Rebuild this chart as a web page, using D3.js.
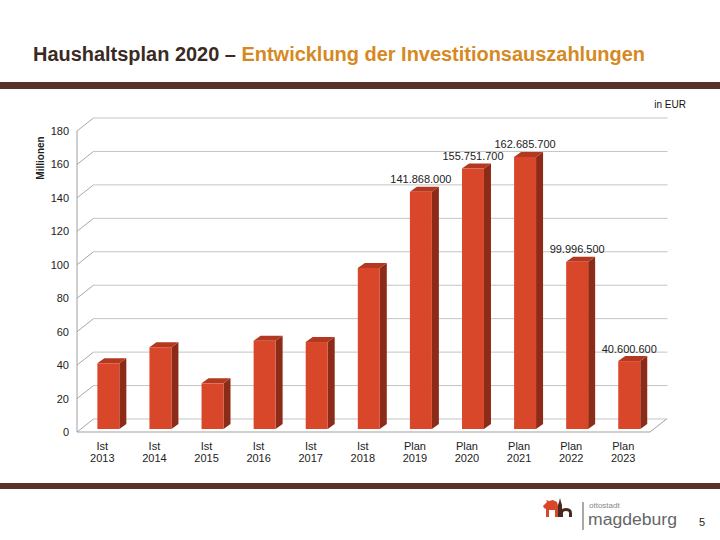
<!DOCTYPE html>
<html>
<head>
<meta charset="utf-8">
<script src="https://cdn.jsdelivr.net/npm/d3@7"></script>
<style>
  body { margin: 0; background: #fff; }
  #chart { width: 720px; height: 540px; }
  text { font-family: "Liberation Sans", Arial, sans-serif; }
</style>
</head>
<body>
<div id="chart"></div>
<script>
// Investitionsauszahlungen in Mio. EUR
var kinds = ["Ist", "Ist", "Ist", "Ist", "Ist", "Ist", "Plan", "Plan", "Plan", "Plan", "Plan"];
var years = ["2013", "2014", "2015", "2016", "2017", "2018", "2019", "2020", "2021", "2022", "2023"];
var values = [39.3, 48.9, 27.3, 52.8, 52.0, 96.3, 141.868, 155.7517, 162.6857, 99.9965, 40.6006];
var valueLabels = ["", "", "", "", "", "", "141.868.000", "155.751.700", "162.685.700", "99.996.500", "40.600.600"];
var yTicks = [0, 20, 40, 60, 80, 100, 120, 140, 160, 180];

var container = d3.select("#chart");
var width = 720;
var height = 540;

var svg = container
  .append("svg")
  .attr("width", width)
  .attr("height", height);

// header
var title = svg.append("text")
  .attr("x", 33)
  .attr("y", 61)
  .attr("font-size", 20)
  .attr("font-weight", "bold")
  .attr("textLength", 612)
  .attr("lengthAdjust", "spacingAndGlyphs");
title.append("tspan")
  .attr("fill", "#3b2a23")
  .text("Haushaltsplan 2020 – ");
title.append("tspan")
  .attr("fill", "#d6891f")
  .text("Entwicklung der Investitionsauszahlungen");

svg.append("rect")
  .attr("x", 0).attr("y", 82)
  .attr("width", width).attr("height", 7)
  .attr("fill", "#57322a");
svg.append("rect")
  .attr("x", 0).attr("y", 483)
  .attr("width", width).attr("height", 6)
  .attr("fill", "#57322a");

svg.append("text")
  .attr("x", 686)
  .attr("y", 108)
  .attr("text-anchor", "end")
  .attr("font-size", 10)
  .attr("fill", "#111")
  .text("in EUR");

// pseudo 3d frame
var depthX = 16.5;
var depthY = -13;
var floorLeft = 77;
var floorRight = 650;

var scY = d3.scaleLinear()
  .domain([0, 180])
  .range([432, 131]);
// bars stand a bit behind the front edge
var scBar = d3.scaleLinear()
  .domain([0, 180])
  .range([429, 128]);
var scX = d3.scaleBand()
  .domain(years)
  .range([82.3, 655.3])
  .paddingInner(0.578)
  .paddingOuter(0.289);

var g = svg.append("g");

g.append("g")
  .selectAll("line")
  .data(yTicks)
  .enter()
  .append("line")
  .attr("x1", floorLeft + depthX)
  .attr("x2", floorRight + depthX + 1)
  .attr("y1", d => scY(d) + depthY)
  .attr("y2", d => scY(d) + depthY)
  .attr("stroke", "#c4c4c4")
  .attr("stroke-width", 1);

g.append("g")
  .selectAll("line")
  .data(yTicks)
  .enter()
  .append("line")
  .attr("x1", floorLeft)
  .attr("x2", floorLeft + depthX)
  .attr("y1", d => scY(d))
  .attr("y2", d => scY(d) + depthY)
  .attr("stroke", "#a8a8a8")
  .attr("stroke-width", 1);

g.append("path")
  .attr("d", `M${floorLeft},${scY(180)}V${scY(0)}H${floorRight}l${depthX},${depthY}`)
  .attr("fill", "none")
  .attr("stroke", "#a0a0a0")
  .attr("stroke-width", 1);

svg.append("g")
  .selectAll("text")
  .data(yTicks)
  .enter()
  .append("text")
  .attr("x", 69)
  .attr("y", d => scY(d) + 4)
  .attr("text-anchor", "end")
  .attr("font-size", 11)
  .attr("fill", "#222")
  .text(d => d);

svg.append("text")
  .attr("transform", "translate(44,158) rotate(-90)")
  .attr("text-anchor", "middle")
  .attr("font-size", 10)
  .attr("font-weight", "bold")
  .attr("fill", "#222")
  .text("Millionen");

// bars
var bw = scX.bandwidth();
var sideX = 7;
var sideY = -5;
var bars = g.append("g")
  .selectAll("g")
  .data(years)
  .enter()
  .append("g");

bars.append("path")
  .attr("d", (d, i) => {
    var x = scX(d) + bw, y0 = scBar(0), y1 = scBar(values[i]);
    return `M${x},${y1}l${sideX},${sideY}V${y0 + sideY}L${x},${y0}Z`;
  })
  .attr("fill", "#8c2b18");
bars.append("path")
  .attr("d", (d, i) => {
    var x = scX(d), y1 = scBar(values[i]);
    return `M${x},${y1}l${sideX},${sideY}h${bw}l${-sideX},${-sideY}Z`;
  })
  .attr("fill", "#b3381f");
bars.append("rect")
  .attr("x", d => scX(d))
  .attr("y", (d, i) => scBar(values[i]))
  .attr("width", bw)
  .attr("height", (d, i) => scBar(0) - scBar(values[i]))
  .attr("fill", "#d9472a");

bars.append("text")
  .attr("x", d => scX(d) + bw / 2)
  .attr("y", (d, i) => scBar(values[i]) - 8.5)
  .attr("text-anchor", "middle")
  .attr("font-size", 11)
  .attr("fill", "#222")
  .text((d, i) => valueLabels[i]);

var cat = svg.append("g")
  .selectAll("text")
  .data(years)
  .enter()
  .append("text")
  .attr("text-anchor", "middle")
  .attr("font-size", 11)
  .attr("fill", "#222");
cat.append("tspan")
  .attr("x", d => scX(d) + bw / 2 - 6)
  .attr("y", 450)
  .text((d, i) => kinds[i]);
cat.append("tspan")
  .attr("x", d => scX(d) + bw / 2 - 6)
  .attr("y", 462)
  .text(d => d);

// footer logo
var logo = svg.append("g");
logo.append("path")
  .attr("d", "M543,506 l4,-4 l-1,-2 l3,1 l4,-1 l4,2 l1,4 l0,11 l-3,0 l0,-7 l-6,0 l0,7 l-3,0 l0,-8 l-2,-1 Z")
  .attr("fill", "#d9472a");
logo.append("path")
  .attr("d", "M558,517 V505 l1,-3 l1,-4 l1,4 l1,3 V509 q4,-2 8,0 q2,1 2,4 V517 h-3 V513 q0,-2 -3,-2 q-3,0 -3,2 V517 Z")
  .attr("fill", "#4a2a20");
logo.append("line")
  .attr("x1", 583).attr("x2", 583)
  .attr("y1", 502).attr("y2", 530)
  .attr("stroke", "#555")
  .attr("stroke-width", 1);
logo.append("text")
  .attr("x", 589)
  .attr("y", 508)
  .attr("font-size", 8)
  .attr("fill", "#888")
  .text("ottostadt");
logo.append("text")
  .attr("x", 588)
  .attr("y", 525)
  .attr("font-size", 16)
  .attr("fill", "#666")
  .attr("textLength", 89)
  .attr("lengthAdjust", "spacingAndGlyphs")
  .text("magdeburg");

svg.append("text")
  .attr("x", 699)
  .attr("y", 526)
  .attr("font-size", 11)
  .attr("fill", "#222")
  .text("5");
</script>
</body>
</html>
